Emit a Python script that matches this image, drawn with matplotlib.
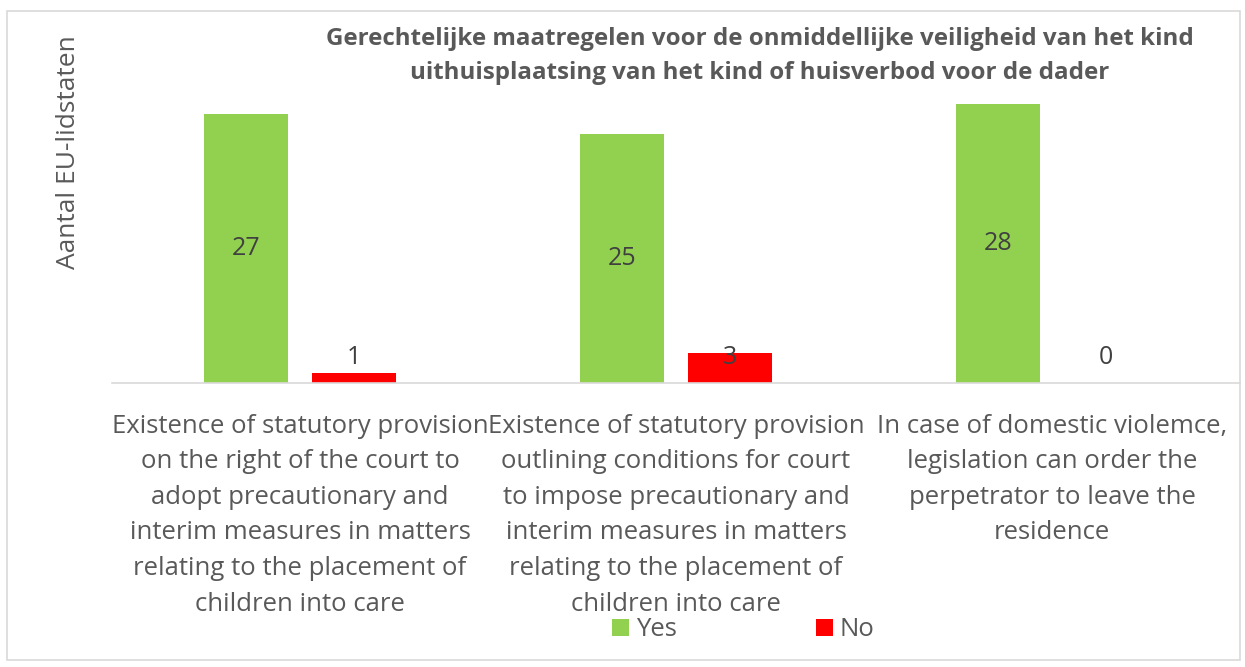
import matplotlib.pyplot as plt
from matplotlib.patches import Rectangle
import numpy as np

plt.rcParams['font.family'] = ['Open Sans', 'DejaVu Sans']

categories = [
    "Existence of statutory provision\non the right of the court to\nadopt precautionary and\ninterim measures in matters\nrelating to the placement of\nchildren into care",
    "Existence of statutory provision\noutlining conditions for court\nto impose precautionary and\ninterim measures in matters\nrelating to the placement of\nchildren into care",
    "In case of domestic violemce,\nlegislation can order the\nperpetrator to leave the\nresidence",
]
yes_values = [27, 25, 28]
no_values = [1, 3, 0]

title = ("Gerechtelijke maatregelen voor de onmiddellijke veiligheid van het kind\n"
         "uithuisplaatsing van het kind of huisverbod voor de dader")
ylabel = "Aantal EU-lidstaten"

green = '#92D050'
red = '#FF0000'
text_gray = '#595959'
label_gray = '#404040'

fig = plt.figure(figsize=(12.45, 6.67), dpi=100)
ax = fig.add_axes([0.09, 0.4258, 0.906, 0.448])

x = np.arange(len(categories))
width = 0.223
off = 0.1436
ax.bar(x - off, yes_values, width, color=green, label='Yes')
ax.bar(x + off, no_values, width, color=red, label='No')

for xi, v in zip(x, yes_values):
    ax.text(xi - off, v / 2, str(v), ha='center', va='center', fontsize=18, color=label_gray)
for xi, v in zip(x, no_values):
    ax.text(xi + off, 2.6, str(v), ha='center', va='center', fontsize=18, color=label_gray)

ax.set_xlim(-0.5, 2.5)
ax.set_ylim(0, 30)
ax.set_yticks([])
ax.set_xticks(x)
ax.set_xticklabels(categories, fontsize=18.5, color=text_gray, linespacing=1.56, va='top')
ax.tick_params(axis='x', length=0, pad=22)
for s in ['top', 'right', 'left']:
    ax.spines[s].set_visible(False)
ax.spines['bottom'].set_color('#D9D9D9')
ax.spines['bottom'].set_linewidth(1.2)

fig.text(0.055, 0.772, ylabel, rotation=90, ha='center', va='center', fontsize=19, color=text_gray)
fig.text(0.6104, 0.916, title, ha='center', va='center', fontsize=17.4, fontweight='bold',
         color=text_gray, linespacing=1.6)

fig.legend(loc='center', bbox_to_anchor=(0.597, 0.0555), ncol=2, frameon=False,
           fontsize=18.5, handlelength=0.66, handleheight=0.66, columnspacing=5.4,
           handletextpad=0.28, labelcolor=text_gray)

fig.patches.append(Rectangle((0.006, 0.01), 0.99, 0.974, transform=fig.transFigure,
                             fill=False, edgecolor='#D9D9D9', linewidth=1.2))

fig.savefig('out.png', dpi=100)
